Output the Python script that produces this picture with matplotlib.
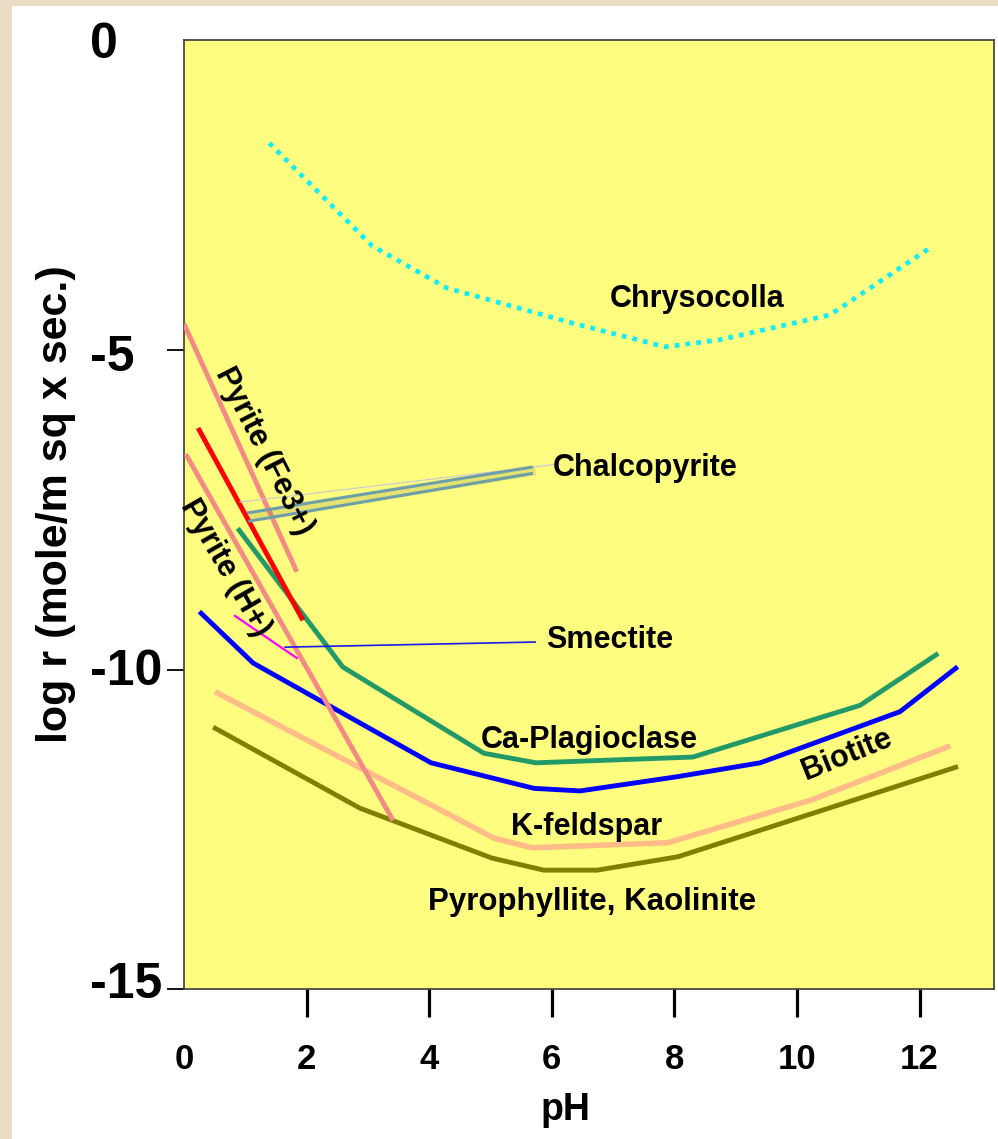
import matplotlib
matplotlib.use("Agg")
import matplotlib.pyplot as plt
import matplotlib.patheffects as pe
from matplotlib.patches import Rectangle
from matplotlib.transforms import ScaledTranslation, blended_transform_factory

# ---------------- data ----------------
chrysocolla_ph = [1.39, 3.07, 4.29, 6.38, 7.85, 8.74, 10.54, 12.17]
chrysocolla_r = [-1.76, -3.37, -4.03, -4.59, -4.95, -4.84, -4.45, -3.40]

pyrite_fe_ph = [0.0, 1.84]
pyrite_fe_r = [-4.59, -8.47]

chalcopyrite_ph = [0.23, 1.94]
chalcopyrite_r = [-6.22, -9.23]

pyrite_h_ph = [0.03, 3.41]
pyrite_h_r = [-6.63, -12.36]

smectite_ph = [0.83, 1.84]
smectite_r = [-9.16, -9.82]

plag_ph = [0.90, 2.59, 4.89, 5.74, 8.30, 11.03, 12.27]
plag_r = [-7.82, -9.96, -11.31, -11.46, -11.37, -10.56, -9.77]

biotite_ph = [0.28, 1.13, 4.03, 5.71, 6.46, 8.03, 9.40, 11.68, 12.59]
biotite_r = [-9.12, -9.90, -11.46, -11.86, -11.90, -11.68, -11.46, -10.66, -9.98]

kfeld_ph = [0.55, 5.06, 5.68, 7.90, 10.24, 12.46]
kfeld_r = [-10.37, -12.64, -12.79, -12.71, -12.04, -11.21]

kaol_ph = [0.51, 2.87, 5.02, 5.87, 6.74, 8.06, 12.59]
kaol_r = [-10.92, -12.17, -12.95, -13.14, -13.14, -12.93, -11.53]

# leader lines (pH, log r)
chalco_lead1_ph = [1.03, 5.69]
chalco_lead1_r = [-7.55, -6.83]
chalco_lead2_ph = [1.05, 5.69]
chalco_lead2_r = [-7.68, -6.93]
chalco_faint_ph = [0.91, 6.13]
chalco_faint_r = [-7.38, -6.78]
smect_lead_ph = [1.65, 5.73]
smect_lead_r = [-9.65, -9.57]

xticks = [0, 2, 4, 6, 8, 10, 12]
yticks = [0, -5, -10, -15]
ytick_labels = ["0", "-5", "-10", "-15"]

# ---------------- figure ----------------
W, H = 998, 1139
fig = plt.figure(figsize=(W / 100, H / 100), dpi=100, facecolor="#EADDC6")
fig.patches.append(Rectangle((12 / W, 0), 1 - 12 / W, 1 - 6 / H, transform=fig.transFigure,
                             facecolor="white", edgecolor="none", zorder=-10))

ax = fig.add_axes([184 / W, 1 - 989 / H, (994 - 184) / W, (989 - 39.5) / H])
ax.set_zorder(1)
ax.set_facecolor("#FFFD80")
ax.set_xlim(0, (994 - 184) / 61.3)
ax.set_ylim(-15, -0.14)
for s in ax.spines.values():
    s.set_color("#3A3A3A")
    s.set_linewidth(1.2)

bold = dict(family=["Liberation Sans", "DejaVu Sans"], weight="bold")
narrow = dict(family=["Liberation Sans Narrow", "Liberation Sans", "DejaVu Sans"], weight="bold")

# x ticks
ax.set_xticks(xticks)
ax.set_xticklabels([str(t) for t in xticks], fontsize=25, **bold)
ax.tick_params(axis="x", direction="out", length=20, width=2.3, pad=19, color="black")
ax.xaxis.get_major_ticks()[0].tick1line.set_visible(False)

# y ticks (marks only, labels as text)
vis_yticks = [t for t in yticks if t >= -15 and t <= -0.14]
ax.set_yticks(vis_yticks)
ax.set_yticklabels([])
ax.tick_params(axis="y", direction="out", length=12, width=1.3, color="black")
trans_y = blended_transform_factory(ax.transAxes, ax.transData)
y_offsets_px = [-14, -8, -2, 4]
for val, lab, off in zip(yticks, ytick_labels, y_offsets_px):
    t = trans_y + ScaledTranslation(0, off / 100, fig.dpi_scale_trans)
    ax.text(-0.1165, val, lab, transform=t, ha="left", va="center",
            fontsize=36, clip_on=False, **narrow)

ax.set_xlabel("pH", fontsize=27, va="center", **bold)
ax.xaxis.set_label_coords((565 - 184) / 810, (989 - 1110) / 949.5)
ax.set_ylabel("log r (mole/m sq x sec.)", fontsize=31, va="center", **bold)
ax.yaxis.set_label_coords((56 - 184) / 810, (989 - 504) / 949.5)

# ---------------- lines ----------------
lw = 3.5
ax.plot(chrysocolla_ph, chrysocolla_r, color="#10EEF8", lw=3.4,
        linestyle=(0, (1, 1.3)), dash_capstyle="butt", zorder=3)
ax.plot(kaol_ph, kaol_r, color="#7F7F00", lw=lw, zorder=3, solid_joinstyle="miter")
ax.plot(kfeld_ph, kfeld_r, color="#FFBB88", lw=lw + 0.5, zorder=3)
ax.plot(biotite_ph, biotite_r, color="#0000FF", lw=lw, zorder=3)
ax.plot(plag_ph, plag_r, color="#229968", lw=lw, zorder=3)
ax.plot(smectite_ph, smectite_r, color="#FF00FF", lw=1.6, zorder=4)
ax.plot(pyrite_h_ph, pyrite_h_r, color="#F48A84", lw=lw, zorder=5, solid_capstyle="butt")
ax.plot(chalcopyrite_ph, chalcopyrite_r, color="#FF0000", lw=lw, zorder=5, solid_capstyle="butt")
ax.plot(pyrite_fe_ph, pyrite_fe_r, color="#F48A84", lw=lw, zorder=5, solid_capstyle="butt")

# leaders
ax.plot(smect_lead_ph, smect_lead_r, color="#1A1AEE", lw=1.2, zorder=6)
ax.plot(chalco_faint_ph, chalco_faint_r, color="#C8C8D8", lw=0.8, zorder=6)
shadow = [pe.SimpleLineShadow(offset=(2, -3), shadow_color="#6A6A30", alpha=0.18, linewidth=6),
          pe.Normal()]
ax.plot(chalco_lead1_ph, chalco_lead1_r, color="#6E9EA8", lw=2.2, zorder=7,
        path_effects=shadow, solid_capstyle="butt")
ax.plot(chalco_lead2_ph, chalco_lead2_r, color="#6E9EA8", lw=2.2, zorder=7,
        solid_capstyle="butt")

# ---------------- labels ----------------
fs = 22
ax.text(8.37, -4.20, "Chrysocolla", fontsize=fs, ha="center", va="center", zorder=8, **bold)
ax.text(7.52, -6.85, "Chalcopyrite", fontsize=fs, ha="center", va="center", zorder=8, **bold)
ax.text(6.95, -9.54, "Smectite", fontsize=fs, ha="center", va="center", zorder=8, **bold)
ax.text(6.61, -11.10, "Ca-Plagioclase", fontsize=fs, ha="center", va="center", zorder=8, **bold)
ax.text(6.56, -12.46, "K-feldspar", fontsize=fs, ha="center", va="center", zorder=8, **bold)
ax.text(6.66, -13.64, "Pyrophyllite, Kaolinite", fontsize=fs + 0.5, ha="center", va="center",
        zorder=8, **bold)
ax.text(10.81, -11.34, "Biotite", fontsize=fs, ha="center", va="center", rotation=22,
        rotation_mode="anchor", zorder=8, **bold)
ax.text(1.31, -6.58, "Pyrite (Fe3+)", fontsize=fs, ha="center", va="center", rotation=-63,
        rotation_mode="anchor", zorder=8, **bold)
ax.text(0.67, -8.40, "Pyrite (H+)", fontsize=fs, ha="center", va="center", rotation=-60,
        rotation_mode="anchor", zorder=8, **bold)

fig.savefig("out.png", dpi=100, facecolor=fig.get_facecolor())
